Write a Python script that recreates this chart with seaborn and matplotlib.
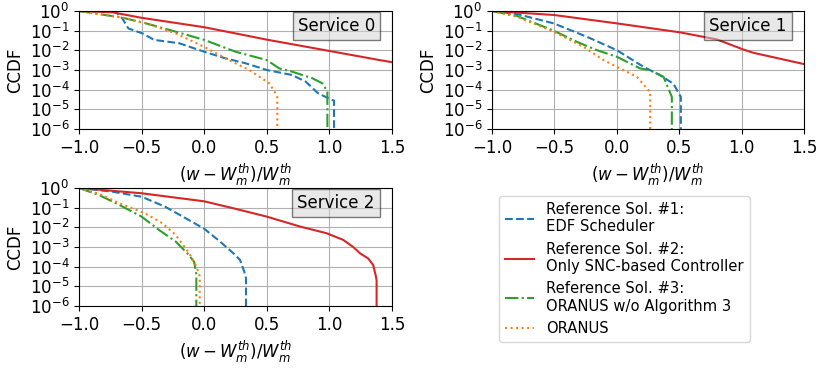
import matplotlib
matplotlib.use("Agg")
import matplotlib.pyplot as plt
import seaborn as sns
import pandas as pd

# ---- data ----
labels = ["Reference Sol. #1:\nEDF Scheduler",
          "Reference Sol. #2:\nOnly SNC-based Controller",
          "Reference Sol. #3:\nORANUS w/o Algorithm 3",
          "ORANUS"]

# Service 0
s0_edf_x = [-1.0, -0.707, -0.654, -0.606, -0.494, -0.40, -0.2, 0.0, 0.17, 0.33, 0.5, 0.70, 0.81, 0.91, 1.02, 1.037, 1.037]
s0_edf_y = [1.0, 0.9, 0.42, 0.13, 0.073, 0.034, 0.023, 0.0085, 0.0039, 0.0022, 0.001, 5.6e-4, 2.6e-4, 6.5e-5, 3e-5, 2.8e-5, 1e-6]
s0_snc_x = [-1.0, -0.734, -0.5, 0.0, 0.5, 1.0, 1.4, 1.5]
s0_snc_y = [1.0, 0.86, 0.45, 0.15, 0.035, 0.0093, 0.0032, 0.0025]
s0_noalg_x = [-1.0, -0.654, -0.47, -0.228, 0.0, 0.25, 0.5, 0.6, 0.70, 0.864, 0.944, 0.984, 0.984]
s0_noalg_y = [1.0, 0.46, 0.24, 0.089, 0.034, 0.0085, 0.0032, 0.0012, 8.3e-4, 3.8e-4, 2.1e-4, 8e-5, 1e-6]
s0_oranus_x = [-1.0, -0.654, -0.47, -0.228, 0.0, 0.12, 0.226, 0.36, 0.44, 0.52, 0.57, 0.584, 0.584]
s0_oranus_y = [1.0, 0.46, 0.24, 0.073, 0.015, 0.0058, 0.0026, 0.001, 4.6e-4, 2.1e-4, 6.5e-5, 4e-5, 1e-6]

# Service 1
s1_edf_x = [-1.0, -0.8, -0.506, -0.24, 0.0, 0.214, 0.347, 0.454, 0.513, 0.513]
s1_edf_y = [1.0, 0.70, 0.235, 0.049, 0.0102, 0.00145, 5.4e-4, 2.0e-4, 4.3e-5, 1e-6]
s1_snc_x = [-1.0, -0.506, 0.0, 0.507, 0.801, 1.014, 1.094, 1.5]
s1_snc_y = [1.0, 0.63, 0.235, 0.082, 0.036, 0.011, 0.0075, 0.002]
s1_noalg_x = [-1.0, -0.8, -0.506, -0.32, -0.16, 0.0, 0.187, 0.267, 0.374, 0.414, 0.441, 0.441]
s1_noalg_y = [1.0, 0.56, 0.1, 0.027, 0.0102, 0.0047, 0.0012, 9.8e-4, 4.5e-4, 1.1e-4, 4.3e-5, 1e-6]
s1_oranus_x = [-1.0, -0.8, -0.506, -0.266, -0.106, 0.0, 0.161, 0.254, 0.267, 0.267]
s1_oranus_y = [1.0, 0.51, 0.089, 0.015, 0.0032, 0.00145, 4.5e-4, 9.3e-5, 8e-5, 1e-6]

# Service 2
s2_edf_x = [-1.0, -0.734, -0.5, -0.31, -0.148, 0.0, 0.126, 0.233, 0.286, 0.32, 0.334, 0.334]
s2_edf_y = [1.0, 0.65, 0.36, 0.11, 0.029, 0.0085, 0.0019, 4.8e-4, 2.2e-4, 5.6e-5, 2.5e-5, 1e-6]
s2_snc_x = [-1.0, -0.5, 0.0, 0.233, 0.5, 0.765, 0.978, 1.11, 1.19, 1.244, 1.31, 1.35, 1.372, 1.377, 1.377]
s2_snc_y = [1.0, 0.54, 0.21, 0.093, 0.035, 0.011, 0.005, 0.0023, 0.001, 4.8e-4, 2.6e-4, 1.2e-4, 3.1e-5, 2e-5, 1e-6]
s2_noalg_x = [-1.0, -0.84, -0.68, -0.5, -0.36, -0.228, -0.135, -0.081, -0.068, -0.063, -0.063]
s2_noalg_y = [1.0, 0.44, 0.14, 0.035, 0.0073, 0.0019, 4.8e-4, 1.8e-4, 6.8e-5, 4e-5, 1e-6]
s2_oranus_x = [-1.0, -0.84, -0.68, -0.47, -0.334, -0.228, -0.12, -0.068, -0.042, -0.036, -0.036]
s2_oranus_y = [1.0, 0.5, 0.17, 0.051, 0.016, 0.0041, 4.8e-4, 1.2e-4, 4.6e-5, 3e-5, 1e-6]

services = ["Service 0", "Service 1", "Service 2"]
series = [
    [(s0_edf_x, s0_edf_y), (s0_snc_x, s0_snc_y), (s0_noalg_x, s0_noalg_y), (s0_oranus_x, s0_oranus_y)],
    [(s1_edf_x, s1_edf_y), (s1_snc_x, s1_snc_y), (s1_noalg_x, s1_noalg_y), (s1_oranus_x, s1_oranus_y)],
    [(s2_edf_x, s2_edf_y), (s2_snc_x, s2_snc_y), (s2_noalg_x, s2_noalg_y), (s2_oranus_x, s2_oranus_y)],
]
xticks = [-1.0, -0.5, 0.0, 0.5, 1.0, 1.5]
yticks = [1e-6, 1e-5, 1e-4, 1e-3, 1e-2, 1e-1, 1e0]

colors = ["#1f77b4", "#d62728", "#2ca02c", "#ff7f0e"]
styles = ["--", "-", "-.", ":"]

plt.rcParams["font.family"] = ["DejaVu Sans"]

fig = plt.figure(figsize=(8.3, 3.68), dpi=100)
positions = [
    [79 / 830, 1 - 129 / 368, 313 / 830, 118 / 368],
    [492 / 830, 1 - 129 / 368, 312 / 830, 118 / 368],
    [79 / 830, 1 - 306 / 368, 313 / 830, 118 / 368],
]

handles = None
for i, pos in enumerate(positions):
    ax = fig.add_axes(pos)
    for j, (xs, ys) in enumerate(series[i]):
        df = pd.DataFrame({"x": xs, "y": ys})
        sns.lineplot(data=df, x="x", y="y", ax=ax, sort=False, estimator=None,
                     color=colors[j], linestyle=styles[j], linewidth=1.5,
                     label=labels[j])
    ax.set_yscale("log")
    ax.set_xlim(-1.0, 1.5)
    ax.set_ylim(1e-6, 1.0)
    ax.set_xticks(xticks)
    ax.set_yticks(yticks)
    ax.minorticks_off()
    ax.tick_params(labelsize=12, colors="black")
    ax.grid(True, color="#b0b0b0", linewidth=0.8)
    ax.set_xlabel(r"$(w-W_m^{th})/W_m^{th}$", fontsize=12, color="black")
    ax.set_ylabel("CCDF", fontsize=12, color="black")
    ax.text(0.945, 0.87, services[i], transform=ax.transAxes, ha="right", va="center",
            fontsize=12, color="black",
            bbox=dict(facecolor="lightgray", edgecolor="black", alpha=0.5, boxstyle="square,pad=0.3"))
    for s in ax.spines.values():
        s.set_color("black")
    handles, lbls = ax.get_legend_handles_labels()
    ax.get_legend().remove()

fig.legend(handles, lbls, loc="upper left", bbox_to_anchor=(499 / 830, 1 - 196 / 368),
           fontsize=10.6, frameon=True, borderaxespad=0.0)

fig.savefig("out.png", dpi=100)
